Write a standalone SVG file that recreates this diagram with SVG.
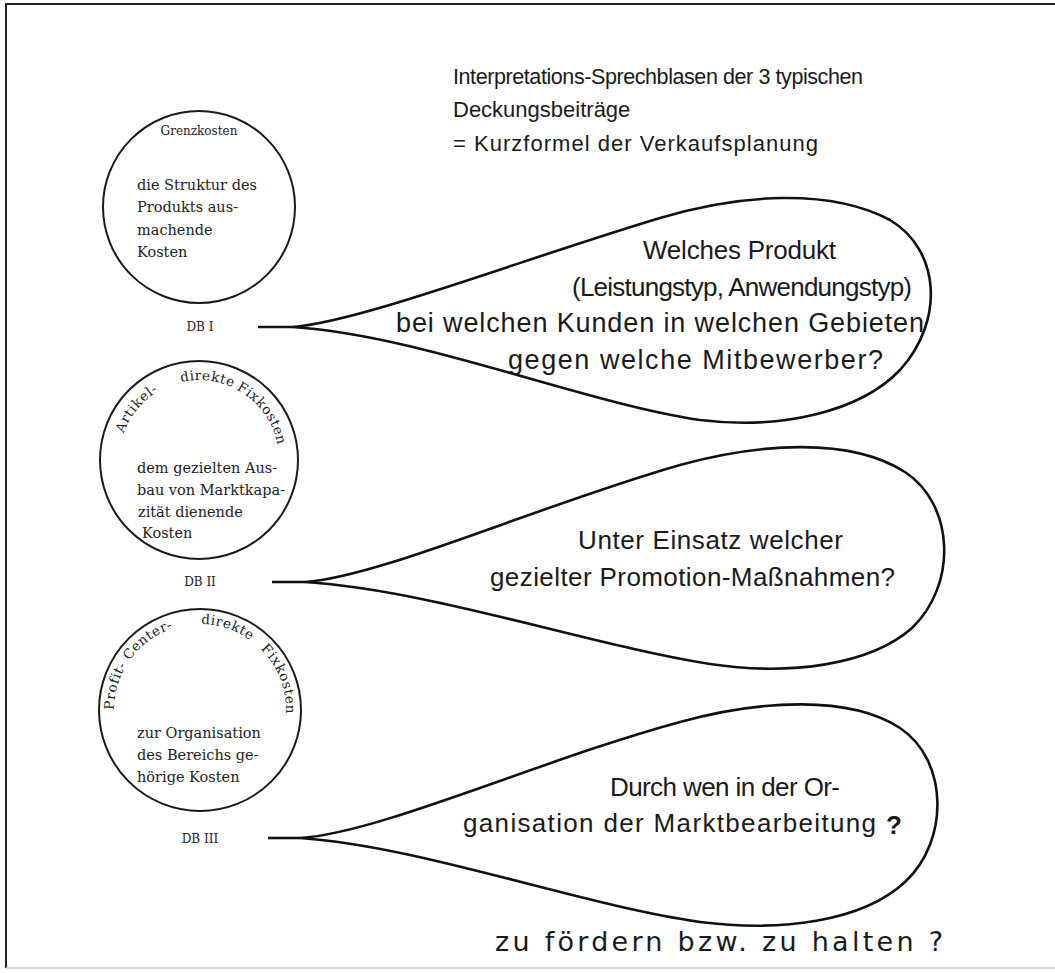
<svg xmlns="http://www.w3.org/2000/svg" xmlns:xlink="http://www.w3.org/1999/xlink" width="1055" height="973" viewBox="0 0 1055 973">
  <style>
    .frame { fill: none; stroke: #222; stroke-width: 2; }
    .ring { fill: none; stroke: #1a1a1a; stroke-width: 2; }
    .bubble { fill: none; stroke: #111; stroke-width: 2.6; stroke-linejoin: round; }
    .stub { fill: none; stroke: #111; stroke-width: 2.6; }
    .serif { font-family: "DejaVu Serif", "Liberation Serif", serif; fill: #222; }
    .body { font-size: 14.5px; }
    .arc { font-size: 13.5px; letter-spacing: 0.6px; }
    .db { font-size: 12px; text-anchor: middle; }
    .sans { font-family: "Liberation Sans", Arial, sans-serif; fill: #1a1a1a; }
    .title { font-size: 22px; }
    .ask { font-size: 26px; }
    .hand { font-family: "DejaVu Sans", sans-serif; font-size: 27px; fill: #1a1a1a; }
  </style>
  <defs>
    <!-- baseline circles for the curved headings, clockwise from lower left -->
    <path id="arc2" d="M123.8,487.4 A80,80 0 1 1 274.2,487.4 A80,80 0 1 1 123.8,487.4"/>
    <path id="arc3" d="M119.2,739.4 A86,86 0 1 1 280.8,739.4 A86,86 0 1 1 119.2,739.4"/>
  </defs>

  <rect width="1055" height="973" fill="#ffffff"/>
  <!-- page frame -->
  <path class="frame" d="M1055,4 H6 V968"/>
  <line x1="6" y1="968" x2="1055" y2="968" stroke="#ccc" stroke-width="1.5"/>

  <g id="title" class="sans title">
    <text x="453" y="84" font-size="21.5" textLength="410" lengthAdjust="spacing">Interpretations-Sprechblasen der 3 typischen</text>
    <text x="453" y="117">Deckungsbeiträge</text>
    <text x="453" y="151" textLength="365" lengthAdjust="spacing">= Kurzformel der Verkaufsplanung</text>
  </g>

  <g id="db1">
    <circle class="ring" cx="199" cy="207" r="96"/>
    <text class="serif db" x="199" y="135">Grenzkosten</text>
    <g class="serif body">
      <text x="137" y="190">die Struktur des</text>
      <text x="137" y="212">Produkts aus-</text>
      <text x="137" y="235">machende</text>
      <text x="137" y="257">Kosten</text>
    </g>
    <text class="serif db" x="200" y="331">DB I</text>
  </g>

  <g id="db2">
    <circle class="ring" cx="199" cy="460" r="99"/>
    <g class="serif arc">
      <text><textPath xlink:href="#arc2" startOffset="55">Artikel-</textPath></text>
      <text><textPath xlink:href="#arc2" startOffset="135">direkte</textPath></text>
      <text><textPath xlink:href="#arc2" startOffset="192">Fixkosten</textPath></text>
    </g>
    <g class="serif body">
      <text x="137" y="473">dem gezielten Aus-</text>
      <text x="137" y="495">bau von Marktkapa-</text>
      <text x="138" y="517">zität dienende</text>
      <text x="142" y="538">Kosten</text>
    </g>
    <text class="serif db" x="200" y="586">DB II</text>
  </g>

  <g id="db3">
    <circle class="ring" cx="200" cy="710" r="101"/>
    <g class="serif arc">
      <text><textPath xlink:href="#arc3" startOffset="30">Profit- Center-</textPath></text>
      <text><textPath xlink:href="#arc3" startOffset="166">direkte</textPath></text>
      <text><textPath xlink:href="#arc3" startOffset="232">Fixkosten</textPath></text>
    </g>
    <g class="serif body">
      <text x="137" y="738">zur Organisation</text>
      <text x="137" y="760">des Bereichs ge-</text>
      <text x="137" y="782">hörige Kosten</text>
    </g>
    <text class="serif db" x="200" y="843">DB III</text>
  </g>

  <!-- speech bubbles: tail stub plus teardrop outline -->
  <g id="connectors">
    <path class="stub" d="M258,327 H292"/>
    <path class="stub" d="M272,582 H305"/>
    <path class="stub" d="M268,838 H300"/>
  </g>

  <g id="bubble1">
    <path class="bubble" d="M292,327 C360,322 520,260 660,218 C740,194 830,188 890,220 C940,250 945,320 900,370 C860,412 780,430 700,420 C580,402 420,335 292,327 Z"/>
    <g class="sans ask">
      <text x="643" y="259" textLength="193" lengthAdjust="spacing">Welches Produkt</text>
      <text x="572" y="296" textLength="340" lengthAdjust="spacing">(Leistungstyp, Anwendungstyp)</text>
      <text x="396" y="332" font-size="27" textLength="528" lengthAdjust="spacing">bei welchen Kunden in welchen Gebieten</text>
      <text x="508" y="369" font-size="27" textLength="375" lengthAdjust="spacing">gegen welche Mitbewerber?</text>
    </g>
  </g>

  <g id="bubble2">
    <path class="bubble" d="M305,582 C380,577 540,505 680,465 C760,443 850,437 905,472 C955,505 957,585 912,628 C870,665 790,676 710,664 C590,645 430,590 305,582 Z"/>
    <g class="sans ask">
      <text x="578" y="549" textLength="265" lengthAdjust="spacing">Unter Einsatz welcher</text>
      <text x="490" y="586" textLength="405" lengthAdjust="spacing">gezielter Promotion-Maßnahmen?</text>
    </g>
  </g>

  <g id="bubble3">
    <path class="bubble" d="M300,838 C380,833 540,760 680,722 C760,700 850,695 900,728 C948,760 950,840 905,882 C862,922 780,932 700,922 C580,905 420,846 300,838 Z"/>
    <g class="sans ask">
      <text x="610" y="796" textLength="230" lengthAdjust="spacing">Durch wen in der Or-</text>
      <text x="463" y="832" textLength="413" lengthAdjust="spacing">ganisation der Marktbearbeitung</text>
      <text x="886" y="834" font-weight="bold">?</text>
    </g>
  </g>

  <g id="note">
    <text class="hand" x="495" y="951" textLength="448" lengthAdjust="spacing">zu fördern bzw. zu halten ?</text>
  </g>
</svg>
